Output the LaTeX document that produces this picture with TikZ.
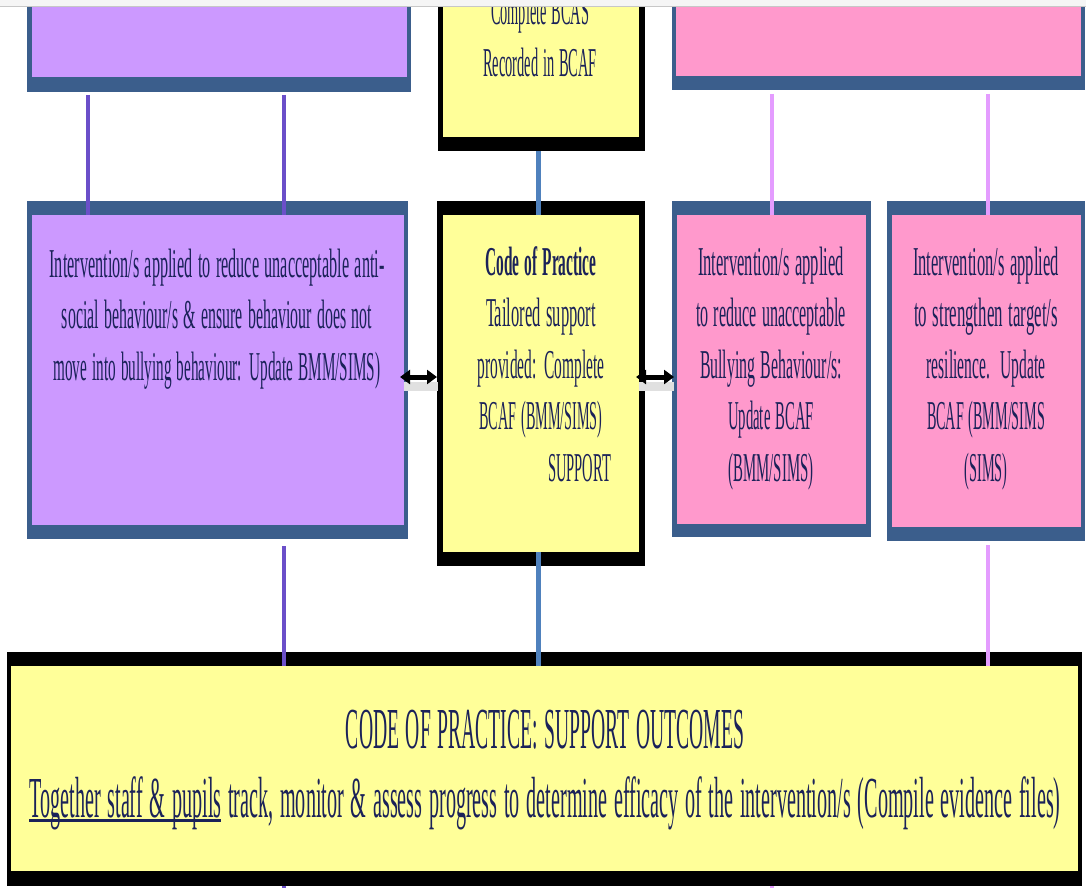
\documentclass[tikz,border=0pt]{standalone}
\usepackage{fontspec}
\usepackage{graphicx}
\usetikzlibrary{arrows.meta}
\setmainfont{Liberation Serif}
\definecolor{bord}{HTML}{3B5E8C}
\definecolor{purp}{HTML}{CC99FF}
\definecolor{pinkf}{HTML}{FF99CC}
\definecolor{yell}{HTML}{FFFF99}
\definecolor{txtc}{HTML}{1B2259}
\definecolor{lpurp}{HTML}{6B4FC9}
\definecolor{lblue}{HTML}{4F81BD}
\definecolor{lpink}{HTML}{E49CFF}
\newcommand{\myul}[1]{\setbox0\hbox{#1}\rlap{\vrule width\wd0 height -2pt depth 5pt}\box0\relax}
\newcommand{\lw}[2]{\resizebox{#1pt}{\height}{#2}}
\tikzset{
  box/.style={draw=none, inner sep=0pt, outer sep=0pt, anchor=north west},
  txt/.style={text=txtc, inner sep=0pt, outer sep=0pt, anchor=base, align=center, text width=600pt,
    font=\fontsize{41}{51.5}\selectfont},
  btxt/.style={txt, text width=1200pt, font=\fontsize{58}{69}\selectfont},
  conp/.style={draw=lpurp, line width=3.3pt},
  conb/.style={draw=lblue, line width=5pt},
  conk/.style={draw=lpink, line width=3.3pt},
  dbl/.style={line width=5pt, {Triangle[length=10pt,width=14pt]}-{Triangle[length=10pt,width=14pt]}},
  shad/.style={line width=9pt, draw=black!12}
}
\begin{document}
\begin{tikzpicture}[x=1pt,y=-1pt]
\useasboundingbox (0,0) rectangle (1086,888);
\fill[white] (0,0) rectangle (1086,888);
% ---- top row (cut off) ----
\node[box, fill=bord, minimum width=384, minimum height=112] (tl) at (27,-20) {};
\node[box, fill=purp, minimum width=375, minimum height=97] (tlin) at (32,-20) {};
\node[box, fill=black, minimum width=207, minimum height=171] (tc) at (438,-20) {};
\node[box, fill=yell, minimum width=196, minimum height=157] (tcin) at (443,-20) {};
\node[txt, anchor=base] (tct) at (540,25) {\lw{98}{Complete BCAS}\\\lw{114}{Recorded in BCAF}};
\node[box, fill=bord, minimum width=413, minimum height=110] (tr) at (672,-20) {};
\node[box, fill=pinkf, minimum width=405, minimum height=96] (trin) at (676,-20) {};
% ---- middle row ----
\node[box, fill=bord, minimum width=381, minimum height=338] (ml) at (27,201) {};
\node[box, fill=purp, minimum width=372, minimum height=310] (mlin) at (32,215) {};
\node[txt] (mlt) at (217,277) {\lw{335}{Intervention/s applied to reduce unacceptable anti-}\\\lw{310}{social behaviour/s \& ensure behaviour does not}\\\lw{327}{move into bullying behaviour: Update BMM/SIMS)}};
\node[box, fill=black, minimum width=208, minimum height=365] (mc) at (437,201) {};
\node[box, fill=yell, minimum width=196, minimum height=337] (mcin) at (443,215) {};
\node[txt] (mct) at (541,275) {\lw{111}{\bfseries Code of Practice}\\\lw{110}{Tailored support}\\\lw{127}{provided: Complete}\\\lw{123}{BCAF (BMM/SIMS)}\\\hspace*{77pt}\lw{63}{SUPPORT}};
\node[box, fill=bord, minimum width=199, minimum height=336] (mr) at (672,201) {};
\node[box, fill=pinkf, minimum width=189, minimum height=309] (mrin) at (677,215) {};
\node[txt] (mrt) at (771,275) {\lw{146}{Intervention/s applied}\\\lw{150}{to reduce unacceptable}\\\lw{142}{Bullying Behaviour/s:}\\\lw{86}{Update BCAF}\\\lw{85}{(BMM/SIMS)}};
\node[box, fill=bord, minimum width=198, minimum height=340] (mx) at (887,201) {};
\node[box, fill=pinkf, minimum width=189, minimum height=312] (mxin) at (892,215) {};
\node[txt] (mxt) at (986,275) {\lw{146}{Intervention/s applied}\\\lw{144}{to strengthen target/s}\\\lw{119}{resilience.\ \ Update}\\\lw{118}{BCAF (BMM/SIMS}\\\lw{43}{(SIMS)}};
% ---- bottom box ----
\node[box, fill=black, minimum width=1075, minimum height=234] (bb) at (7,652) {};
\node[box, fill=yell, minimum width=1067, minimum height=205] (bbin) at (11,666) {};
\node[btxt] (bbt) at (545,748) {\lw{398}{CODE OF PRACTICE: SUPPORT OUTCOMES}};
\node[btxt] (bbt2) at (545,817) {\lw{1031}{\myul{Together staff \& pupils} track, monitor \& assess progress to determine efficacy of the intervention/s (Compile evidence files)}};
% ---- connectors ----
\coordinate (xa) at (88,0);
\coordinate (xb) at (284,0);
\coordinate (xc) at (538,0);
\coordinate (xd) at (772,0);
\coordinate (xe) at (988,0);
\draw[conp] ([yshift=-3pt]tl.south -| xa) -- (mlin.north -| xa);
\draw[conp] ([yshift=-3pt]tl.south -| xb) -- (mlin.north -| xb);
\draw[conb] (tc.south -| xc) -- (mcin.north -| xc);
\draw[conk] ([yshift=-4pt]tr.south -| xd) -- (mrin.north -| xd);
\draw[conk] ([yshift=-4pt]tr.south -| xe) -- (mxin.north -| xe);
\draw[conp] ([yshift=-7pt]ml.south -| xb) -- (bbin.north -| xb);
\draw[conb] ([yshift=14pt]mc.south -| xc) -- (bbin.north -| xc);
\draw[conk] ([yshift=-4pt]mx.south -| xe) -- (bbin.north -| xe);
\coordinate (fb) at (284,888);
\coordinate (fd) at (772,888);
\draw[conp] (bb.south -| fb) -- (fb);
\draw[conk] (bb.south -| fd) -- (fd);
% ---- arrows ----
\coordinate (ya) at (0,377);
\draw[shad] ([xshift=-4pt,yshift=-9pt]ml.east |- ya) -- ([xshift=1pt,yshift=-9pt]mc.west |- ya);
\draw[shad] ([xshift=-6pt,yshift=-9pt]mc.east |- ya) -- ([xshift=2pt,yshift=-9pt]mr.west |- ya);
\draw[dbl] ([xshift=-8pt]ml.east |- ya) -- ([xshift=0pt]mc.west |- ya);
\draw[dbl] ([xshift=-9pt]mc.east |- ya) -- ([xshift=2pt]mr.west |- ya);
% ---- top band ----
\fill[black!4] (0,0) rectangle (1086,7);
\draw[black!22, line width=1pt] (0,7) -- (1086,7);
\end{tikzpicture}
\end{document}
